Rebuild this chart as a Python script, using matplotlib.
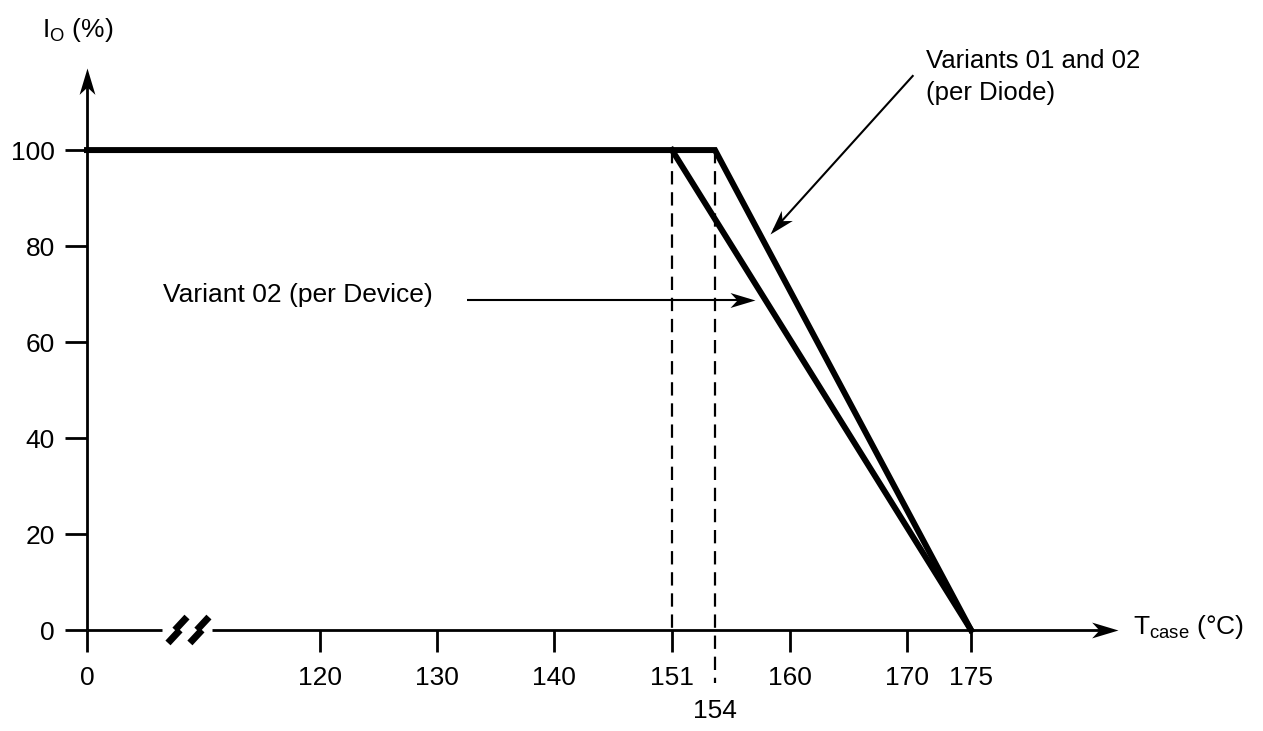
import numpy as np
import matplotlib
matplotlib.use("Agg")
import matplotlib.pyplot as plt
from matplotlib.markers import MarkerStyle
from matplotlib.path import Path
from matplotlib.transforms import Affine2D

plt.rcParams['font.family'] = ['Liberation Sans', 'DejaVu Sans']
plt.rcParams['mathtext.fontset'] = 'custom'
plt.rcParams['mathtext.rm'] = 'Liberation Sans'
plt.rcParams['mathtext.it'] = 'Liberation Sans:italic'

# derating curves (T_case in degC, I_O in %)
diode_t = [0, 154, 175]
diode_i = [100, 100, 0]
device_t = [151, 175]
device_i = [100, 0]
knee_t = [151, 154]

xticks = [0, 120, 130, 140, 151, 160, 170, 175]
yticks = [0, 20, 40, 60, 80, 100]

# the schematic x axis is not linear, map the printed ticks onto pixel columns
scale_t = [0, 120, 130, 140, 151, 154, 160, 170, 175, 185]
scale_px = [87, 320, 437, 554, 672, 715, 790, 907, 971, 1118]


def fwd(x):
    return np.interp(x, scale_t, scale_px)


def inv(p):
    return np.interp(p, scale_px, scale_t)


W, H = 1263, 731
fig = plt.figure(figsize=(W / 100, H / 100), dpi=100)
ax = fig.add_axes([87 / W, (H - 630) / H, (1118 - 87) / W, (630 - 68) / H])
ax.set_xscale('function', functions=(fwd, inv))
ax.set_xlim(0, 185)
ax.set_ylim(0, 117.1)
for s in ax.spines.values():
    s.set_visible(False)

fs = 19
ax.set_xticks(xticks)
ax.set_yticks(yticks)
ax.tick_params(direction='out', length=15.8, width=2, labelsize=fs, color='black')
ax.tick_params(axis='x', pad=10)
ax.tick_params(axis='y', pad=7.5)

lw_ax = 2
# axes lines with break on x
brk0, brk1 = 38.6, 64.4
ax.plot([0, 0], [0, 115.5], color='black', lw=lw_ax, clip_on=False, solid_capstyle='butt')
ax.plot([0, brk0], [0, 0], color='black', lw=lw_ax, clip_on=False, solid_capstyle='butt')
ax.plot([brk1, 184], [0, 0], color='black', lw=lw_ax, clip_on=False, solid_capstyle='butt')

# break marks
for dx in [0, 11.3]:
    ax.plot([41.7 + dx, 47.9 + dx], [-2.7, 0], color='black', lw=5, clip_on=False, solid_capstyle='butt')
    ax.plot([45.3 + dx, 51.5 + dx], [0, 2.7], color='black', lw=5, clip_on=False, solid_capstyle='butt')

head = Path([(0, 0), (-1, 0.3), (-0.72, 0), (-1, -0.3), (0, 0)],
            [Path.MOVETO, Path.LINETO, Path.LINETO, Path.LINETO, Path.CLOSEPOLY])


def arrow(x0, y0, x1, y1, lw=1.5, ms=36):
    p0 = ax.transData.transform((x0, y0))
    p1 = ax.transData.transform((x1, y1))
    ang = np.degrees(np.arctan2(p1[1] - p0[1], p1[0] - p0[0]))
    # stop the shaft a little short of the sharp tip
    u = (p1 - p0) / np.hypot(*(p1 - p0))
    xe, ye = ax.transData.inverted().transform(p1 - u * 6)
    if lw > 0:
        ax.plot([x0, xe], [y0, ye], color='black', lw=lw, clip_on=False, solid_capstyle='butt')
    m = MarkerStyle(head, transform=Affine2D().rotate_deg(ang))
    ax.plot([x1], [y1], marker=m, ms=ms, color='black', mew=0, clip_on=False)


arrow(0, 100, 0, 117.1, lw=0, ms=38)
arrow(170, 0, 185, 0, lw=0, ms=38)

# curves
ax.plot(diode_t, diode_i, color='black', lw=4.3, solid_joinstyle='miter', clip_on=False)
ax.plot(device_t, device_i, color='black', lw=4.3, solid_joinstyle='miter', clip_on=False)

# knee markers
ax.plot([knee_t[0]] * 2, [100, 0], color='black', lw=1.6, dashes=(6, 3.5))
ax.plot([knee_t[1]] * 2, [100, -11], color='black', lw=1.6, dashes=(6, 3.5), clip_on=False)
ax.text(knee_t[1], -16.9, '154', ha='center', va='center', fontsize=fs)

# annotations
arrow(132.6, 68.75, 157.2, 68.75)
ax.text(39.1, 69.8, 'Variant 02 (per Device)', ha='left', va='center', fontsize=fs)
arrow(170.5, 115.6, 158.4, 82.5)
ax.text(171.5, 121, 'Variants 01 and 02\n(per Diode)', ha='left', va='top',
        fontsize=18.5, linespacing=1.4)

fig.text(42 / W, 1 - 30 / H, r'I$_\mathrm{O}$ (%)', ha='left', va='center', fontsize=fs)
fig.text(1133 / W, 1 - 627 / H, r'T$_\mathrm{case}$ (°C)', ha='left', va='center', fontsize=fs)

fig.savefig('out.png', dpi=100)
